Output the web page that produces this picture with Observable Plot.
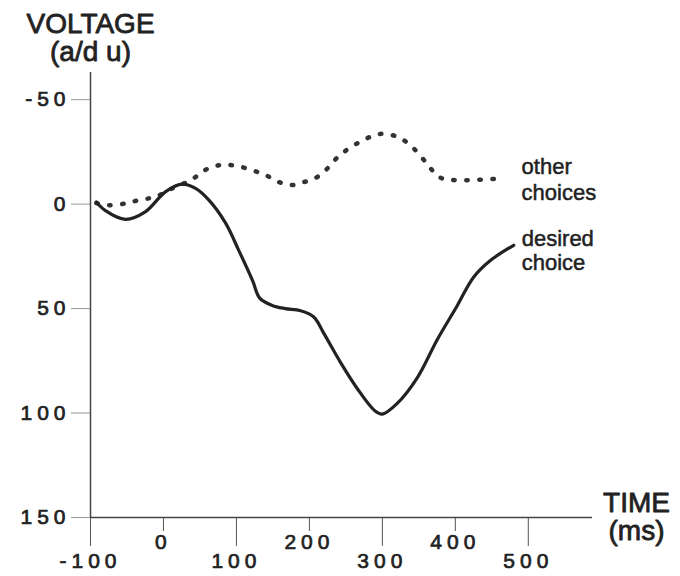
<!DOCTYPE html>
<html><head><meta charset="utf-8">
<script src="https://cdn.jsdelivr.net/npm/d3@7"></script>
<script src="https://cdn.jsdelivr.net/npm/@observablehq/plot@0.6"></script>
<style>
body{margin:0;background:#fff}
g[aria-label="y-axis tick label"] text, g[aria-label="x-axis tick label"] text { letter-spacing: 5px; stroke: #222; stroke-width: 0.7px; }
</style>
</head><body><div id="chart"></div>
<script>
const desiredTime = [-92,-80,-52,-25,3,26,44,62,85,103,122,132,149,167,188,206,220,243,265,290,300,320,348,375,402,425,448,480];
const desiredVoltage = [-1,3,7.3,3.7,-6,-9.6,-7.5,-2,9,22,36.5,45,48.5,50,51,54,62,76,88,99,100.5,95.5,83,65,49,35,27,19.7];
const otherTime = [-92,-75,-52,-34,-11,12,39,57,78,99,121,140,157,176,194,215,242,270,297,320,338,361,377,398,462];
const otherVoltage = [-0.5,0.5,-0.3,-1.9,-3.5,-7.5,-11.8,-16.3,-18.7,-18.4,-16.3,-13.9,-10.7,-9.1,-10.7,-13.9,-23.5,-29.9,-33.6,-32.3,-28.3,-19.5,-13.1,-11.5,-12.3];
const seriesNames = ["desired\nchoice", "other\nchoices"];
const yTicks = [-50, 0, 50, 100, 150];
const xTicksUpper = [0, 200, 400];
const xTicksLower = [-100, 100, 300, 500];
const yTitle = "VOLTAGE\n(a/d u)";
const xTitle = "TIME\n(ms)";

const desired = desiredTime.map((t, i) => ({time: t, voltage: desiredVoltage[i], series: seriesNames[0]}));
const other = otherTime.map((t, i) => ({time: t, voltage: otherVoltage[i], series: seriesNames[1]}));

const chart = Plot.plot({
  width: 680, height: 576,
  marginLeft: 90, marginRight: 88, marginTop: 72, marginBottom: 59,
  x: {domain: [-100, 588]},
  y: {domain: [-63, 150], reverse: true},
  style: {fontFamily: "'Liberation Sans', Arial, sans-serif", background: "#fff", color: "#222"},
  marks: [
    Plot.axisY(yTicks, {tickSize: 19, tickPadding: 1, stroke: "#999", fill: "#222", fontSize: 21, tickFormat: d => String(d), label: null}),
    Plot.axisX(xTicksUpper, {tickSize: 14, tickPadding: 3, stroke: "#555", fill: "#222", fontSize: 21, tickFormat: d => String(d), label: null}),
    Plot.axisX(xTicksLower, {tickSize: 29, tickPadding: 7, stroke: "#555", fill: "#222", fontSize: 21, tickFormat: d => String(d), label: null}),
    Plot.ruleX([-100], {stroke: "#444", strokeWidth: 1.5}),
    Plot.ruleY([150], {stroke: "#444", strokeWidth: 1.5}),
    Plot.line(other, {x: "time", y: "voltage", curve: "catmull-rom", stroke: "#333", strokeWidth: 4.5, strokeDasharray: "1.5,11.5", strokeLinecap: "round"}),
    Plot.line(desired, {x: "time", y: "voltage", curve: "catmull-rom", stroke: "#222", strokeWidth: 3.2}),
    Plot.text(other, Plot.selectLast({x: "time", y: "voltage", text: "series", textAnchor: "start", lineAnchor: "middle", dx: 21, fontSize: 22, lineHeight: 1.2, fill: "#222", stroke: "#222", strokeWidth: 0.5})),
    Plot.text(desired, Plot.selectLast({x: "time", y: "voltage", text: "series", textAnchor: "start", lineAnchor: "middle", dx: 8, dy: 5, fontSize: 22, lineHeight: 1.1, fill: "#222", stroke: "#222", strokeWidth: 0.5})),
    Plot.text([yTitle], {frameAnchor: "top-left", text: d => d, textAnchor: "middle", lineAnchor: "top", dy: -59, fontSize: 28, lineHeight: 1.0, fill: "#222", stroke: "#222", strokeWidth: 0.8, style: "letter-spacing:1.5px"}),
    Plot.text([xTitle], {frameAnchor: "bottom-right", text: d => d, textAnchor: "middle", lineAnchor: "middle", dx: 44, fontSize: 28, lineHeight: 1.0, fill: "#222", stroke: "#222", strokeWidth: 0.8})
  ]
});
document.getElementById("chart").appendChild(chart);
</script>
</body></html>
